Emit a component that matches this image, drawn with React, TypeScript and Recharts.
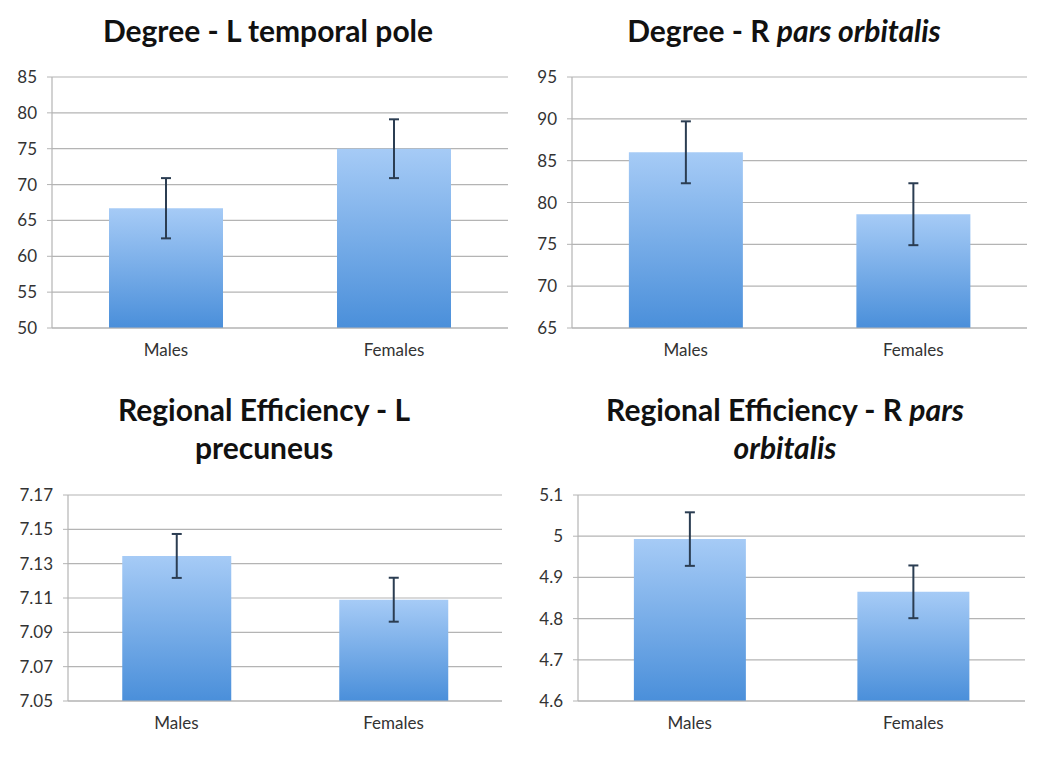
import React from 'react'
import { BarChart, Bar, XAxis, YAxis, CartesianGrid, ErrorBar } from 'recharts'

const categories = ['Males', 'Females']

// Degree - L temporal pole
const degreeTemporalMean = [66.7, 75.0]
const degreeTemporalErr = [4.2, 4.1]
const degreeTemporalTicks = [50, 55, 60, 65, 70, 75, 80, 85]

// Degree - R pars orbitalis
const degreeOrbitalisMean = [86.0, 78.6]
const degreeOrbitalisErr = [3.7, 3.7]
const degreeOrbitalisTicks = [65, 70, 75, 80, 85, 90, 95]

// Regional Efficiency - L precuneus
const effPrecuneusMean = [7.1345, 7.109]
const effPrecuneusErr = [0.0128, 0.0128]
const effPrecuneusTicks = [7.05, 7.07, 7.09, 7.11, 7.13, 7.15, 7.17]

// Regional Efficiency - R pars orbitalis
const effOrbitalisMean = [4.993, 4.865]
const effOrbitalisErr = [0.065, 0.064]
const effOrbitalisTicks = [4.6, 4.7, 4.8, 4.9, 5, 5.1]

const font = 'Lato, "Open Sans", sans-serif'
const gridColor = '#b4b4b4'
const textColor = '#333'

const toRows = (mean: number[], err: number[]) =>
  categories.map((name, i) => ({ name, value: mean[i], err: err[i] }))

interface PanelProps {
  id: string
  left: number
  top: number
  title: React.ReactNode
  titleCenter: number
  rows: { name: string; value: number; err: number }[]
  ticks: number[]
  format?: (v: number) => string
  axisWidth: number
  plotTop: number
  plotRight: number
  plotBottom: number
}

function Panel({ id, left, top, title, titleCenter, rows, ticks, format, axisWidth, plotTop, plotRight, plotBottom }: PanelProps) {
  return (
    <div style={{ position: 'absolute', left, top, width: 525, height: 379 }}>
      <div
        style={{
          position: 'absolute',
          left: titleCenter - 250,
          top: 11,
          width: 500,
          textAlign: 'center',
          fontFamily: font,
          fontWeight: 700,
          fontSize: 30,
          lineHeight: '38px',
          color: '#111',
          whiteSpace: 'nowrap',
        }}
      >
        {title}
      </div>
      <BarChart
        width={525}
        height={379}
        data={rows}
        margin={{ top: plotTop, right: plotRight, bottom: plotBottom - 30, left: 0 }}
        barCategoryGap="25%"
      >
        <defs>
          <linearGradient id={id} x1="0" y1="0" x2="0" y2="1">
            <stop offset="0%" stopColor="#a6cbf6" />
            <stop offset="100%" stopColor="#4a8fda" />
          </linearGradient>
        </defs>
        <CartesianGrid vertical={false} stroke={gridColor} strokeWidth={1.2} />
        <XAxis
          dataKey="name"
          height={30}
          tickLine={false}
          tickSize={0}
          tickMargin={16}
          axisLine={{ stroke: gridColor, strokeWidth: 1.2 }}
          tick={{ fill: textColor, fontSize: 17, fontFamily: font }}
        />
        <YAxis
          width={axisWidth}
          domain={[ticks[0], ticks[ticks.length - 1]]}
          ticks={ticks}
          interval={0}
          tickFormatter={format}
          tickSize={5}
          tickMargin={10}
          tickLine={{ stroke: gridColor }}
          axisLine={{ stroke: gridColor, strokeWidth: 1.2 }}
          tick={{ fill: textColor, fontSize: 17, fontFamily: font }}
        />
        <Bar dataKey="value" fill={`url(#${id})`} isAnimationActive={false}>
          <ErrorBar dataKey="err" width={5} stroke="#2b3d52" strokeWidth={2} />
        </Bar>
      </BarChart>
    </div>
  )
}

export default function App() {
  return (
    <div style={{ position: 'absolute', left: 0, top: 0, width: 1050, height: 758, background: '#fff' }}>
      <Panel
        id="g1"
        left={0}
        top={0}
        title="Degree - L temporal pole"
        titleCenter={268}
        rows={toRows(degreeTemporalMean, degreeTemporalErr)}
        ticks={degreeTemporalTicks}
        axisWidth={52}
        plotTop={77}
        plotRight={17}
        plotBottom={51}
      />
      <Panel
        id="g2"
        left={525}
        top={0}
        title={<>Degree - R <i>pars orbitalis</i></>}
        titleCenter={259}
        rows={toRows(degreeOrbitalisMean, degreeOrbitalisErr)}
        ticks={degreeOrbitalisTicks}
        axisWidth={47}
        plotTop={77}
        plotRight={23}
        plotBottom={51}
      />
      <Panel
        id="g3"
        left={0}
        top={379}
        title={<>Regional Efficiency - L<br />precuneus</>}
        titleCenter={264}
        rows={toRows(effPrecuneusMean, effPrecuneusErr)}
        ticks={effPrecuneusTicks}
        format={(v) => v.toFixed(2)}
        axisWidth={68}
        plotTop={116}
        plotRight={23}
        plotBottom={57}
      />
      <Panel
        id="g4"
        left={525}
        top={379}
        title={<>Regional Efficiency - R <i>pars</i><br /><i>orbitalis</i></>}
        titleCenter={260}
        rows={toRows(effOrbitalisMean, effOrbitalisErr)}
        ticks={effOrbitalisTicks}
        axisWidth={53}
        plotTop={116}
        plotRight={25}
        plotBottom={57}
      />
    </div>
  )
}
